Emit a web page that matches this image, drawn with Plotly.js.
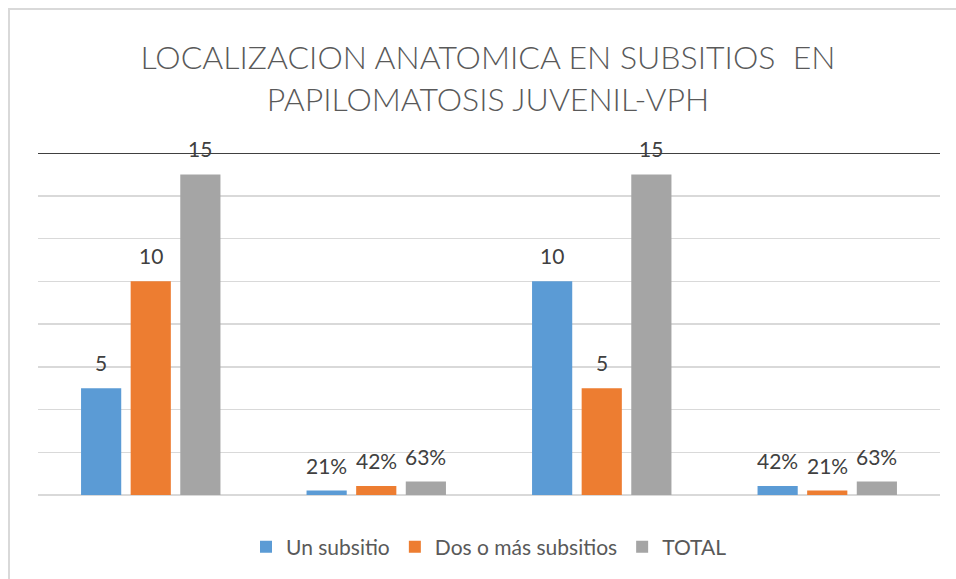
<!DOCTYPE html>
<html>
<head>
<meta charset="utf-8">
<script src="https://cdn.plot.ly/plotly-3.0.1.min.js"></script>
<style>
  html, body { margin: 0; padding: 0; background: #fff; }
  #wrap { position: relative; width: 956px; height: 579px; overflow: hidden; }
  #frame { position: absolute; left: 8px; top: 8px; width: 1000px; height: 1000px;
           border-left: 2px solid #d9d9d9; border-top: 2px solid #d9d9d9; pointer-events: none; z-index: 5; }
  #chart { position: absolute; left: 0; top: 0; width: 956px; height: 579px; }
</style>
</head>
<body>
<div id="wrap">
  <div id="chart"></div>
  <div id="frame"></div>
</div>
<script>
const categories = ["Grupo 1", "Grupo 2", "Grupo 3", "Grupo 4"];
const seriesNames = ["Un subsitio", "Dos o más subsitios", "TOTAL"];
const unSubsitio = [5, 0.21, 10, 0.42];
const dosOMas = [10, 0.42, 5, 0.21];
const total = [15, 0.63, 15, 0.63];
const unSubsitioLabels = ["5", "21%", "10", "42%"];
const dosOMasLabels = ["10", "42%", "5", "21%"];
const totalLabels = ["15", "63%", "15", "63%"];
const colors = ["#5B9BD5", "#ED7D31", "#A5A5A5"];

const values = [unSubsitio, dosOMas, total];
const labels = [unSubsitioLabels, dosOMasLabels, totalLabels];

const font = "Lato, 'Open Sans', sans-serif";

const W = 956, H = 579;
const margin = { l: 38, r: 16, t: 153, b: 84 };
const bargap = 0.34;
const catWidthPx = (W - margin.l - margin.r) / categories.length;
const slotPx = catWidthPx * (1 - bargap) / values.length;

const traces = values.map((v, i) => ({
  type: "bar",
  name: seriesNames[i],
  x: categories,
  y: v,
  marker: { color: colors[i] },
  hoverinfo: "skip"
}));

// Data labels as annotations so they can sit a little higher above the bars
const annotations = [];
values.forEach((v, i) => {
  v.forEach((val, j) => {
    annotations.push({
      x: categories[j], y: val, xref: "x", yref: "y",
      text: labels[i][j], showarrow: false,
      xanchor: "center", yanchor: "bottom",
      xshift: (i - (values.length - 1) / 2) * slotPx,
      yshift: 11,
      font: { family: font, size: 21, color: "#404040" }
    });
  });
});

const layout = {
  width: W,
  height: H,
  paper_bgcolor: "#ffffff",
  plot_bgcolor: "#ffffff",
  margin: margin,
  title: {
    text: "LOCALIZACION ANATOMICA EN SUBSITIOS  EN<br>PAPILOMATOSIS JUVENIL-VPH",
    font: { family: font, size: 32, color: "#595959", weight: 300 },
    x: 488 / W, xanchor: "center",
    y: 1 - 69 / H, yanchor: "top", yref: "container"
  },
  barmode: "group",
  bargap: bargap,
  bargroupgap: 0.19,
  xaxis: {
    showticklabels: false, showgrid: false, zeroline: false, showline: false, ticks: ""
  },
  yaxis: {
    range: [0, 16], dtick: 2, showticklabels: false, ticks: "",
    showgrid: true, gridcolor: "#d9d9d9", gridwidth: 1.5,
    zeroline: true, zerolinecolor: "#d9d9d9", zerolinewidth: 1.5, showline: false
  },
  shapes: [{
    type: "line", xref: "paper", x0: 0, x1: 1, yref: "y", y0: 16, y1: 16,
    line: { color: "#404040", width: 2 }, layer: "below"
  }],
  annotations: annotations,
  showlegend: true,
  legend: {
    orientation: "h", x: 0.5, xanchor: "center",
    yref: "container", y: 1 - 547 / H, yanchor: "middle",
    font: { family: font, size: 21, color: "#595959" },
    itemwidth: 30
  }
};

Plotly.newPlot("chart", traces, layout, { displayModeBar: false, staticPlot: true });
</script>
</body>
</html>
